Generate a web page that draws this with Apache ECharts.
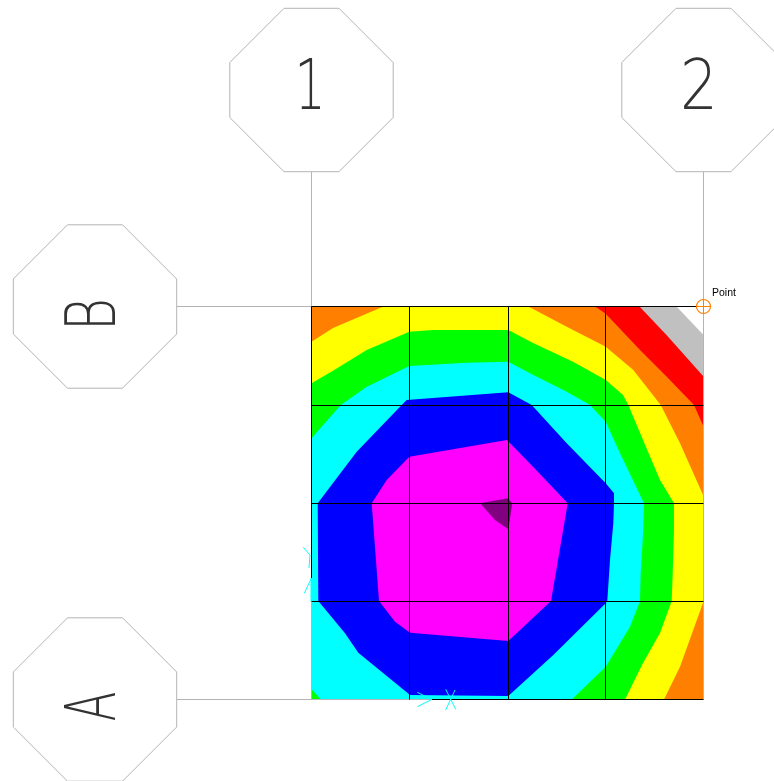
<!DOCTYPE html>
<html><head><meta charset="utf-8">
<style>html,body{margin:0;padding:0;background:#fff}#c{width:774px;height:781px}</style>
<script src="https://cdn.jsdelivr.net/npm/echarts@6/dist/echarts.min.js"></script></head>
<body><div id="c"></div>
<script>
// Plan coordinates; origin at grid A/1 (lower-left column)
const gridX = [0, 98, 197, 294, 392];
const gridY = [0, 98, 196, 294, 393];
const bubbleX = [0, 392];
const bubbleY = [393, 0];
const bubbleXLabels = ['1', '2'];
const bubbleYLabels = ['B', 'A'];

const bandWhite = [[0,0],[392,0],[392,393],[0,393]];
const bandGray = [[0,0],[392,0],[392,364.5],[365,393],[0,393]];
const bandRed = [[0,0],[392,0],[392,323],[355,364.5],[328,393],[0,393]];
const bandOrange = [[0,0],[392,0],[392,273],[382.5,294.5],[355,323],[328.5,349.5],[294,386],[283.5,393],[0,393]];
const bandYellow = [[72,393],[216.8,393],[255.2,372.8],[294.2,352.8],[321.8,329.5],[349.2,294.5],[368.5,256.2],[392,203.5],[392,98],[368.5,32.8],[352.5,0],[0,0],[0,357.8],[21.5,371.5]];
const bandGreen = [[0,316.2],[21.5,328.8],[55.2,349.5],[97.8,367.8],[121.5,369.5],[196.8,369.5],[221.5,356.5],[261.5,337.8],[294.2,319.5],[311.5,304.5],[316.8,294.5],[331.5,259.5],[348.5,219.5],[362.5,196.2],[362.5,169.5],[361.2,126.5],[360.2,98.5],[348.5,66.5],[331.5,36.5],[313.5,0],[0,0]];
const bandCyan = [[0,261.2],[29.2,294.5],[55.2,312.8],[97.8,333.5],[155.2,336.8],[196.8,337.8],[221.8,324.5],[255.2,307.8],[278.5,294.5],[294.2,277.8],[308.5,246.2],[332.5,196.2],[331.8,169.5],[329.2,126.5],[328.5,98.5],[318.5,72.8],[294.2,32.8],[260.2,0],[9.5,0],[0,10.2]];
const bandBlue = [[6.2,196.2],[45.2,247.8],[90.2,294.5],[95.2,299.5],[196.8,307.2],[220.2,294.5],[255.2,256.2],[294.2,216.2],[302.5,206.2],[302.5,196.2],[301.8,176.2],[298.5,139.5],[295.8,98.5],[294.2,96.2],[241.8,44.5],[196.8,3.5],[98.5,4.5],[46.8,46.8],[33.5,66.2],[6.8,98.5]];
const bandMagenta = [[60.2,196.2],[75.2,219.5],[97.8,242.8],[195.5,259.5],[221.5,232.8],[256.2,196.2],[239.5,98.5],[196.8,58.5],[98.5,66.8],[83.5,77.8],[67.5,98.5]];
const bandPurple = [[168.5,196.2],[196.2,201.2],[200.8,196.2],[196.8,170.2],[183.5,179.5]];
const bandList = [bandWhite,bandGray,bandRed,bandOrange,bandYellow,bandGreen,bandCyan,bandBlue,bandMagenta,bandPurple];
const bandColors = ['#ffffff','#c0c0c0','#ff0000','#ff8000','#ffff00','#00ff00','#00ffff','#0000ff','#ff00ff','#800080'];

// Support symbols (cyan strokes) at the two restrained joints
const supportStrokes = [
  [[-8.2,152.2],[-1.5,144.5],[-2.5,131.5]],
  [[0,121.5],[-7.2,106.2]],
  [[-0.5,121.5],[-0.5,98]],
  [[105.8,7.2],[120.2,0],[105.8,-7.2]],
  [[134.2,10.2],[144.2,-9.8]],
  [[143.5,9.5],[134.2,-10.5]]
];
const pointMarker = [392, 393];
const pointLabel = 'Point';

const grayLines = [
  [[0,527.5],[0,0]], [[392,527.5],[392,0]],
  [[-134.5,393],[392,393]], [[-134.5,0],[392,0]]
];
const blackLines = [
  [[gridX[1],gridY[0]],[gridX[1],gridY[4]]],
  [[gridX[2],gridY[0]],[gridX[2],gridY[4]]],
  [[gridX[3],gridY[0]],[gridX[3],gridY[4]]],
  [[gridX[0],gridY[1]],[gridX[4],gridY[1]]],
  [[gridX[0],gridY[2]],[gridX[4],gridY[2]]],
  [[gridX[0],gridY[3]],[gridX[4],gridY[3]]],
  [[gridX[0],gridY[4]],[gridX[4],gridY[4]]],
  [[gridX[0],gridY[4]],[gridX[0],121.5]],
  [[120.2,gridY[0]],[gridX[4],gridY[0]]]
];
const R = 81.7, C = 27.5;
const bubbles = [
  {x:bubbleX[0], y:609.5, label:bubbleXLabels[0], rot:0, dx:-1.5, dy:0.5, sx:0.7},
  {x:bubbleX[1], y:609.5, label:bubbleXLabels[1], rot:0, dx:-4.5, dy:0.5, sx:0.85},
  {x:-216.5, y:bubbleY[0], label:bubbleYLabels[0], rot:Math.PI/2, dx:1.5, dy:8, sx:0.72},
  {x:-216.5, y:bubbleY[1], label:bubbleYLabels[1], rot:Math.PI/2, dx:1.5, dy:7, sx:0.62}
];
const FONT = '"DejaVu Sans", Inter, sans-serif';
function polyline(api, pts, color, w){
  return {type:'polyline', shape:{points:pts.map(p=>api.coord(p))}, style:{stroke:color, lineWidth:w, fill:null}, silent:true};
}
const chart = echarts.init(document.getElementById('c'), null, {renderer:'canvas'});
chart.setOption({
  animation:false, backgroundColor:'#ffffff',
  grid:{left:0, top:0, width:774, height:781},
  xAxis:{type:'value', min:-311.5, max:462.5, show:false},
  yAxis:{type:'value', min:-81.5, max:699.5, show:false},
  series:[
    {type:'custom', coordinateSystem:'cartesian2d', clip:false, silent:true, z:1,
     data:bandList.map((b,i)=>[i]), encode:{x:[],y:[]},
     renderItem(p, api){
       const pts = bandList[p.dataIndex].map(q=>api.coord(q));
       return {type:'polygon', shape:{points:pts}, style:{fill:bandColors[p.dataIndex], stroke:null}};
     }},
    {type:'custom', coordinateSystem:'cartesian2d', clip:false, silent:true, z:2,
     data:grayLines.map((b,i)=>[i]), encode:{x:[],y:[]},
     renderItem(p, api){ return polyline(api, grayLines[p.dataIndex], '#b4b4b4', 1); }},
    {type:'custom', coordinateSystem:'cartesian2d', clip:false, silent:true, z:3,
     data:blackLines.map((b,i)=>[i]), encode:{x:[],y:[]},
     renderItem(p, api){ return polyline(api, blackLines[p.dataIndex], '#000000', 1); }},
    {type:'custom', coordinateSystem:'cartesian2d', clip:false, silent:true, z:4,
     data:supportStrokes.map((b,i)=>[i]), encode:{x:[],y:[]},
     renderItem(p, api){ return polyline(api, supportStrokes[p.dataIndex], '#00ffff', 1); }},
    {type:'custom', coordinateSystem:'cartesian2d', clip:false, silent:true, z:5,
     data:bubbles.map((b,i)=>[i]), encode:{x:[],y:[]},
     renderItem(p, api){
       const b = bubbles[p.dataIndex];
       const v = [[-C,R],[C,R],[R,C],[R,-C],[C,-R],[-C,-R],[-R,-C],[-R,C]].map(o=>api.coord([b.x+o[0],b.y+o[1]]));
       const c = api.coord([b.x,b.y]);
       return {type:'group', children:[
         {type:'polygon', shape:{points:v}, style:{fill:'#ffffff', stroke:'#b4b4b4', lineWidth:1}},
         {type:'text', x:c[0]+b.dx, y:c[1]+b.dy, rotation:b.rot, scaleX:b.sx,
          style:{text:b.label, fontFamily:FONT, fontWeight:200, fontSize:70, fill:'#333333', textAlign:'center', textVerticalAlign:'middle'}}
       ]};
     }},
    {type:'custom', coordinateSystem:'cartesian2d', clip:false, silent:true, z:6,
     data:[pointMarker], encode:{x:0,y:1},
     renderItem(p, api){
       const c = api.coord(pointMarker);
       return {type:'group', children:[
         {type:'circle', shape:{cx:c[0], cy:c[1], r:7}, style:{fill:null, stroke:'#ff8000', lineWidth:1.2}},
         {type:'line', shape:{x1:c[0]-7,y1:c[1],x2:c[0]+7,y2:c[1]}, style:{stroke:'#ff8000', lineWidth:1}},
         {type:'line', shape:{x1:c[0],y1:c[1]-7,x2:c[0],y2:c[1]+7}, style:{stroke:'#ff8000', lineWidth:1}},
         {type:'text', x:c[0]+8.5, y:c[1]-13,
          style:{text:pointLabel, fontFamily:'"Liberation Sans", Arial, sans-serif', fontSize:10.5, fill:'#000000', textAlign:'left', textVerticalAlign:'middle'}}
       ]};
     }}
  ]
});
</script></body></html>
